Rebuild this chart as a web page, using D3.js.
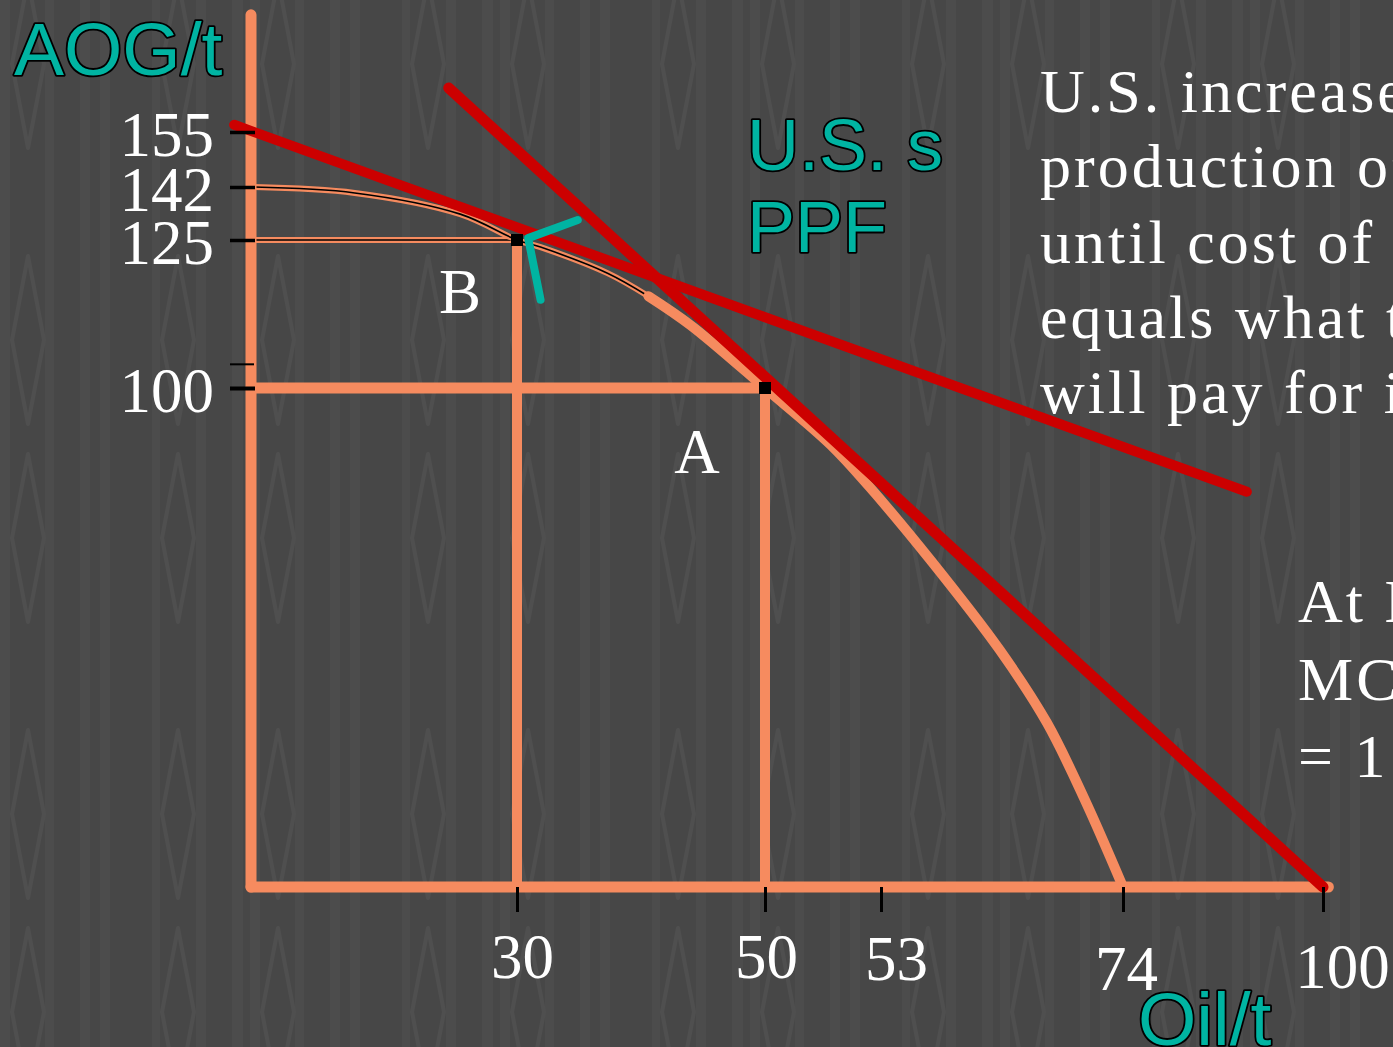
<!DOCTYPE html>
<html>
<head>
<meta charset="utf-8">
<script src="https://cdn.jsdelivr.net/npm/d3@7"></script>
<style>
  html, body { margin: 0; padding: 0; background: #474747; overflow: hidden; }
  svg { display: block; }
</style>
</head>
<body>
<script>
// ---- data (oil per t on x, AOG per t on y) ----
const xStops = [0, 30, 50, 53, 74, 100];          // schematic axis breakpoints
const xTickLabels = [30, 50, 53, 74, 100];
const yStops = [0, 100, 125, 142, 155];
const yTickLabels = [155, 142, 125, 100];
const yMinorTicks = [104];

// U.S. production possibilities frontier
const ppfUpper = [[0, 142], [11.7, 140.1], [23.6, 133.3], [30, 125], [31.9, 123.8], [37.3, 119.4], [40.6, 115.5]];
const ppfLower = [[40.6, 115.5], [44.0, 110.6], [50, 100], [51.7, 88.6], [52.7, 80.2], [57.3, 65.5], [63.3, 47.5], [67.4, 32.9], [70.7, 17.4], [74, 0]];

// relative price lines
const priceLineFlat = [[-1.9, 156.7], [90.1, 79.2]];
const priceLineSteep = [[22.3, 165.4], [100, 0]];

const pointA = [50, 100];
const pointB = [30, 125];
const tangentMark = [[34.9, 131.4], [30.9, 125.6], [31.9, 114.9]];

const axisEnds = { x: 100.7, y: 182.7 };

const noteLines = ["U.S. increases", "production of oil", "until cost of last barrel", "equals what the world", "will pay for it."];
const noteLines2 = ["At B,", "MC of oil", "= 1 AOG"];

// ---- layout ----
const W = 1393, H = 1047;
const xPos = [251, 517, 765, 881, 1123, 1323];
const yPos = [887, 388, 240, 187, 132];
const ORANGE = "#F68B5F", RED = "#CC0000", TEAL = "#00B4A2";
const SERIF = "'Liberation Serif', 'Times New Roman', serif";
const SANS = "'Liberation Sans', Arial, sans-serif";

const x = d3.scaleLinear().domain(xStops).range(xPos);
const y = d3.scaleLinear().domain(yStops).range(yPos);

const svg = d3.select("body").append("svg").attr("width", W).attr("height", H);

// background texture: vertical pinstripes with diamond outlines
const defs = svg.append("defs");
const pat = defs.append("pattern")
  .attr("id", "bgtex").attr("patternUnits", "userSpaceOnUse")
  .attr("x", 0).attr("y", 200).attr("width", 250).attr("height", 474);
pat.append("rect").attr("width", 250).attr("height", 474).attr("fill", "#474747");
[[0, 10], [45, 54], [80, 90], [100, 110], [152, 160], [196, 206], [232, 243]].forEach(([a, b]) => {
  pat.append("rect").attr("x", a).attr("y", 0).attr("width", b - a).attr("height", 474).attr("fill", "#4c4c4c");
});
[28, 178].forEach(cx => [140, 338].forEach(cy => {
  pat.append("path")
    .attr("d", `M${cx},${cy - 84}L${cx + 16},${cy}L${cx},${cy + 84}L${cx - 16},${cy}Z`)
    .attr("fill", "none").attr("stroke", "#4f4f4f").attr("stroke-width", 4).attr("stroke-linejoin", "round");
}));
svg.append("rect").attr("width", W).attr("height", H).attr("fill", "url(#bgtex)");

const line = d3.line().x(d => x(d[0])).y(d => y(d[1]));
const smooth = d3.line().x(d => x(d[0])).y(d => y(d[1])).curve(d3.curveCatmullRom.alpha(0.5));

// thin outlined guides: 125 level and upper part of frontier
function outlined(path) {
  svg.append("path").attr("d", path).attr("fill", "none").attr("stroke", ORANGE).attr("stroke-width", 6);
  svg.append("path").attr("d", path).attr("fill", "none").attr("stroke", "#000").attr("stroke-width", 1.6);
}
outlined(line([[0, pointB[1]], pointB]));
outlined(smooth(ppfUpper));

// drop lines from A and B
const g = svg.append("g").attr("fill", "none").attr("stroke", ORANGE).attr("stroke-linecap", "round");
g.append("path").attr("d", line([[0, pointA[1]], pointA])).attr("stroke-width", 11);
g.append("path").attr("d", line([pointA, [pointA[0], 0]])).attr("stroke-width", 10);
g.append("path").attr("d", line([pointB, [pointB[0], 0]])).attr("stroke-width", 10);

// axis lines
g.append("path").attr("d", line([[0, axisEnds.y], [0, 0]])).attr("stroke-width", 11);
g.append("path").attr("d", line([[0, 0], [axisEnds.x, 0]])).attr("stroke-width", 11);

// lower, thick part of the frontier
g.append("path").attr("d", smooth(ppfLower)).attr("stroke-width", 10);

// price lines
svg.append("path").attr("d", line(priceLineFlat)).attr("fill", "none")
  .attr("stroke", RED).attr("stroke-width", 10).attr("stroke-linecap", "round");
svg.append("path").attr("d", line(priceLineSteep)).attr("fill", "none")
  .attr("stroke", RED).attr("stroke-width", 11).attr("stroke-linecap", "round");

// axes: black ticks and serif labels
const xAxis = d3.axisBottom(x).tickValues(xTickLabels).tickSize(25).tickPadding(21).tickFormat(d3.format("d"));
const gx = svg.append("g").attr("transform", `translate(0,${y(0)})`).call(xAxis);
gx.select(".domain").remove();
gx.selectAll(".tick line").attr("stroke", "#000").attr("stroke-width", 3);
const xNudge = [[5, 0], [1, 0], [15, 2], [3, 12], [19, 10]];
gx.selectAll(".tick text")
  .attr("fill", "#fff").attr("font-family", SERIF).attr("font-size", 63)
  .attr("dx", (d, i) => xNudge[i][0]).attr("transform", (d, i) => `translate(0,${xNudge[i][1]})`);

const yAxis = d3.axisLeft(y).tickValues(yTickLabels).tickSize(25).tickPadding(16).tickFormat(d3.format("d"));
const gy = svg.append("g").attr("transform", `translate(${x(0) + 4},0)`).call(yAxis);
gy.select(".domain").remove();
gy.selectAll(".tick line").attr("stroke", "#000").attr("stroke-width", d => d === 100 ? 4 : 3.5);
gy.selectAll(".tick text")
  .attr("fill", "#fff").attr("font-family", SERIF).attr("font-size", 63).attr("dy", "0.37em");
gy.selectAll(".minor").data(yMinorTicks).enter().append("line")
  .attr("x1", -25).attr("x2", -1).attr("y1", d => y(d)).attr("y2", d => y(d))
  .attr("stroke", "#000").attr("stroke-width", 2);

// A and B markers
svg.selectAll(".pt").data([pointA, pointB]).enter().append("rect")
  .attr("x", d => x(d[0]) - 6).attr("y", d => y(d[1]) - 6)
  .attr("width", 12).attr("height", 12).attr("fill", "#000");

// tangency mark
svg.append("path").attr("d", line(tangentMark)).attr("fill", "none")
  .attr("stroke", TEAL).attr("stroke-width", 8).attr("stroke-linecap", "round").attr("stroke-linejoin", "round");

// point labels
svg.append("text").attr("x", 460).attr("y", 313).attr("text-anchor", "middle")
  .attr("fill", "#fff").attr("font-family", SERIF).attr("font-size", 63).text("B");
svg.append("text").attr("x", 697).attr("y", 473).attr("text-anchor", "middle")
  .attr("fill", "#fff").attr("font-family", SERIF).attr("font-size", 63).text("A");

// outlined teal titles
function teal(tx, ty, s, size) {
  svg.append("text").attr("x", tx).attr("y", ty).attr("fill", TEAL)
    .attr("stroke", "#000").attr("stroke-width", 3.6).attr("stroke-linejoin", "round")
    .attr("paint-order", "stroke")
    .attr("font-family", SANS).attr("font-size", size).text(s);
}
teal(14, 75, "AOG/t", 75);
teal(747, 170, "U.S. s", 72);
teal(747, 252, "PPF", 72);
teal(1138, 1045, "Oil/t", 75);

// explanatory notes
const note = svg.append("text").attr("fill", "#fff").attr("font-family", SERIF)
  .attr("font-size", 62).attr("letter-spacing", 3);
note.selectAll("tspan").data(noteLines).enter().append("tspan")
  .attr("x", 1040).attr("y", (d, i) => 112 + i * 75.3).text(d => d);
const note2 = svg.append("text").attr("fill", "#fff").attr("font-family", SERIF)
  .attr("font-size", 62).attr("letter-spacing", 3);
note2.selectAll("tspan").data(noteLines2).enter().append("tspan")
  .attr("x", 1298).attr("y", (d, i) => 622 + i * 77.5).text(d => d);
</script>
</body>
</html>
